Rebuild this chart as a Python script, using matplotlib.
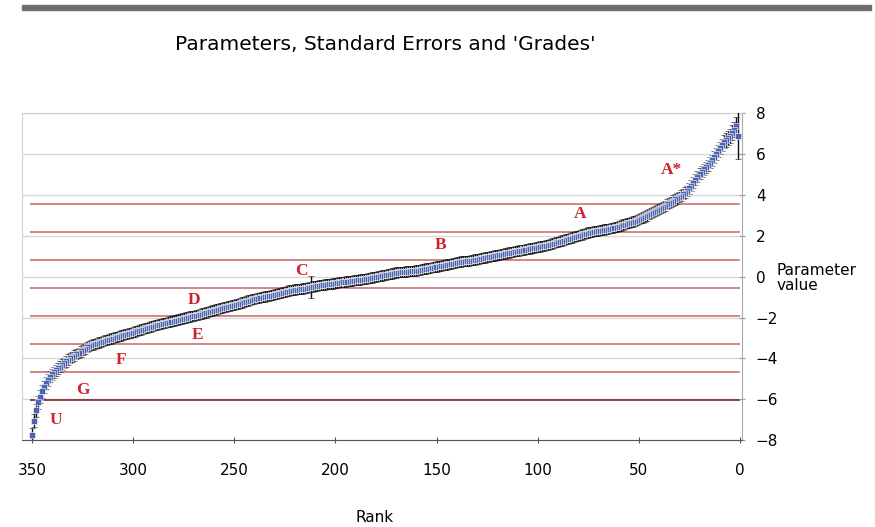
import matplotlib.pyplot as plt
from matplotlib.patches import Rectangle

# ------------------------ Дані ------------------------

# parameter value for rank 1 .. 350
values = [
    6.90, 7.40, 7.20, 7.05, 6.90, 6.80, 6.70, 6.60, 6.45, 6.30,
    6.15, 6.00, 5.85, 5.70, 5.58, 5.45, 5.35, 5.25, 5.15, 5.05,
    4.90, 4.75, 4.60, 4.45, 4.32, 4.20, 4.12, 4.05, 3.97, 3.90,
    3.84, 3.78, 3.72, 3.66, 3.60, 3.54, 3.48, 3.42, 3.36, 3.30,
    3.25, 3.20, 3.15, 3.10, 3.05, 3.00, 2.95, 2.90, 2.86, 2.82,
    2.78, 2.74, 2.70, 2.67, 2.64, 2.61, 2.58, 2.55, 2.51, 2.48,
    2.45, 2.42, 2.40, 2.38, 2.35, 2.33, 2.31, 2.29, 2.27, 2.25,
    2.24, 2.22, 2.20, 2.18, 2.16, 2.13, 2.10, 2.07, 2.04, 2.01,
    1.98, 1.95, 1.92, 1.89, 1.86, 1.83, 1.80, 1.77, 1.74, 1.71,
    1.68, 1.65, 1.62, 1.59, 1.56, 1.54, 1.52, 1.50, 1.48, 1.46,
    1.44, 1.42, 1.40, 1.38, 1.36, 1.34, 1.32, 1.30, 1.28, 1.26,
    1.24, 1.22, 1.20, 1.18, 1.16, 1.14, 1.12, 1.10, 1.08, 1.06,
    1.04, 1.02, 1.00, 0.98, 0.96, 0.94, 0.92, 0.90, 0.88, 0.86,
    0.84, 0.82, 0.80, 0.78, 0.77, 0.76, 0.75, 0.74, 0.72, 0.70,
    0.68, 0.66, 0.64, 0.62, 0.60, 0.58, 0.56, 0.54, 0.52, 0.50,
    0.48, 0.46, 0.44, 0.42, 0.40, 0.38, 0.36, 0.34, 0.32, 0.30,
    0.29, 0.28, 0.27, 0.26, 0.25, 0.24, 0.23, 0.22, 0.21, 0.20,
    0.18, 0.16, 0.14, 0.12, 0.10, 0.08, 0.06, 0.04, 0.02, 0.00,
    -0.02, -0.04, -0.06, -0.08, -0.10, -0.12, -0.13, -0.14, -0.15, -0.16,
    -0.18, -0.20, -0.21, -0.22, -0.24, -0.25, -0.27, -0.28, -0.30, -0.31,
    -0.33, -0.35, -0.36, -0.37, -0.38, -0.40, -0.41, -0.42, -0.44, -0.46,
    -0.48, -0.50, -0.52, -0.54, -0.56, -0.58, -0.60, -0.61, -0.62, -0.63,
    -0.64, -0.66, -0.68, -0.71, -0.74, -0.76, -0.79, -0.81, -0.84, -0.86,
    -0.88, -0.90, -0.93, -0.95, -0.97, -0.99, -1.01, -1.03, -1.05, -1.08,
    -1.11, -1.14, -1.17, -1.20, -1.23, -1.26, -1.29, -1.32, -1.35, -1.38,
    -1.40, -1.42, -1.44, -1.47, -1.50, -1.53, -1.55, -1.58, -1.61, -1.63,
    -1.66, -1.69, -1.72, -1.75, -1.78, -1.80, -1.83, -1.86, -1.88, -1.91,
    -1.93, -1.95, -1.97, -2.00, -2.02, -2.05, -2.07, -2.10, -2.12, -2.15,
    -2.17, -2.20, -2.22, -2.25, -2.27, -2.30, -2.32, -2.35, -2.38, -2.41,
    -2.44, -2.47, -2.50, -2.53, -2.56, -2.59, -2.62, -2.65, -2.68, -2.71,
    -2.74, -2.77, -2.79, -2.82, -2.85, -2.88, -2.91, -2.94, -2.97, -3.00,
    -3.03, -3.06, -3.09, -3.12, -3.15, -3.18, -3.22, -3.26, -3.29, -3.32,
    -3.35, -3.40, -3.46, -3.53, -3.60, -3.66, -3.72, -3.79, -3.86, -3.93,
    -3.99, -4.07, -4.15, -4.23, -4.31, -4.40, -4.49, -4.59, -4.69, -4.79,
    -4.90, -5.05, -5.22, -5.40, -5.62, -5.88, -6.15, -6.55, -7.05, -7.75,
]

# standard errors for rank 1 .. 350
std_errors = [
    1.15, 0.42, 0.38, 0.36, 0.35, 0.34, 0.33, 0.32, 0.31, 0.30,
    0.30, 0.29, 0.29, 0.28, 0.28, 0.28, 0.27, 0.27, 0.27, 0.27,
    0.27, 0.27, 0.26, 0.26, 0.26, 0.26, 0.26, 0.26, 0.26, 0.26,
    0.26, 0.26, 0.26, 0.25, 0.25, 0.25, 0.25, 0.25, 0.25, 0.25,
    0.25, 0.25, 0.25, 0.25, 0.25, 0.25, 0.25, 0.25, 0.25, 0.25,
    0.25, 0.25, 0.25, 0.25, 0.25, 0.25, 0.25, 0.25, 0.25, 0.25,
    0.25, 0.25, 0.25, 0.25, 0.25, 0.25, 0.25, 0.25, 0.25, 0.25,
    0.25, 0.25, 0.25, 0.25, 0.25, 0.25, 0.25, 0.25, 0.25, 0.25,
    0.25, 0.25, 0.25, 0.25, 0.25, 0.25, 0.25, 0.25, 0.25, 0.25,
    0.25, 0.25, 0.25, 0.25, 0.25, 0.25, 0.25, 0.25, 0.25, 0.25,
    0.25, 0.25, 0.25, 0.25, 0.25, 0.25, 0.25, 0.25, 0.25, 0.25,
    0.25, 0.25, 0.25, 0.25, 0.25, 0.25, 0.25, 0.25, 0.25, 0.25,
    0.25, 0.25, 0.25, 0.25, 0.25, 0.25, 0.25, 0.25, 0.25, 0.25,
    0.25, 0.25, 0.25, 0.25, 0.25, 0.25, 0.25, 0.25, 0.25, 0.25,
    0.25, 0.25, 0.25, 0.25, 0.25, 0.25, 0.25, 0.25, 0.25, 0.25,
    0.25, 0.25, 0.25, 0.25, 0.25, 0.25, 0.25, 0.25, 0.25, 0.25,
    0.25, 0.25, 0.25, 0.25, 0.25, 0.25, 0.25, 0.25, 0.25, 0.25,
    0.25, 0.25, 0.25, 0.25, 0.25, 0.25, 0.25, 0.25, 0.25, 0.25,
    0.25, 0.25, 0.25, 0.25, 0.25, 0.25, 0.25, 0.25, 0.25, 0.25,
    0.25, 0.25, 0.25, 0.25, 0.25, 0.25, 0.25, 0.25, 0.25, 0.25,
    0.25, 0.25, 0.25, 0.25, 0.25, 0.25, 0.25, 0.25, 0.25, 0.25,
    0.25, 0.55, 0.25, 0.25, 0.25, 0.25, 0.25, 0.25, 0.25, 0.25,
    0.25, 0.25, 0.25, 0.25, 0.25, 0.25, 0.25, 0.25, 0.25, 0.25,
    0.25, 0.25, 0.25, 0.25, 0.25, 0.25, 0.25, 0.25, 0.25, 0.25,
    0.25, 0.25, 0.25, 0.25, 0.25, 0.25, 0.25, 0.25, 0.25, 0.25,
    0.25, 0.25, 0.25, 0.25, 0.25, 0.25, 0.25, 0.25, 0.25, 0.25,
    0.25, 0.25, 0.25, 0.25, 0.25, 0.25, 0.25, 0.25, 0.25, 0.25,
    0.25, 0.25, 0.25, 0.25, 0.25, 0.25, 0.25, 0.25, 0.25, 0.25,
    0.25, 0.25, 0.25, 0.25, 0.25, 0.25, 0.25, 0.25, 0.25, 0.25,
    0.25, 0.25, 0.25, 0.25, 0.25, 0.25, 0.25, 0.25, 0.25, 0.25,
    0.25, 0.25, 0.25, 0.25, 0.25, 0.25, 0.25, 0.25, 0.25, 0.25,
    0.25, 0.25, 0.25, 0.25, 0.25, 0.25, 0.25, 0.25, 0.25, 0.25,
    0.25, 0.25, 0.25, 0.25, 0.25, 0.25, 0.25, 0.25, 0.25, 0.25,
    0.26, 0.26, 0.26, 0.26, 0.27, 0.27, 0.27, 0.28, 0.28, 0.28,
    0.28, 0.29, 0.29, 0.30, 0.30, 0.31, 0.31, 0.32, 0.32, 0.32,
]

ranks = list(range(1, len(values) + 1))

# grade boundaries (red lines)
boundaries = [3.55, 2.18, 0.81, -0.56, -1.93, -3.30, -4.67, -6.04]

grades = ["A*", "A", "B", "C", "D", "E", "F", "G", "U"]
grade_rank = [34, 79, 148, 217, 270, 268, 306, 325, 338]
grade_value = [5.2, 3.05, 1.55, 0.3, -1.15, -2.85, -4.1, -5.55, -7.0]

# ------------------------ Графік ------------------------

plt.rcParams['font.family'] = ['DejaVu Sans']

fig = plt.figure(figsize=(8.75, 5.27), dpi=100)
ax = fig.add_axes([0.025, 0.165, 0.823, 0.62])

for y in range(-8, 9, 2):
    ax.axhline(y, color='#d9d9d9', lw=1, zorder=0)

for i, b in enumerate(boundaries):
    col = '#7a1010' if i == len(boundaries) - 1 else '#c86464'
    ax.hlines(b, 351, 0, color=col, lw=1.1, zorder=1)

ax.errorbar(ranks, values, yerr=std_errors, fmt='s', ms=4,
            mfc='#4f64b0', mec='white', mew=0.4, ecolor='#111111',
            elinewidth=1.0, capsize=2.5, capthick=1.0, zorder=3)

for g, r, v in zip(grades, grade_rank, grade_value):
    ax.text(r, v, g, color='#d0202c', fontsize=12.5, fontweight='bold',
            family='Liberation Serif', ha='center', va='center', zorder=4)

ax.set_xlim(355, -1)
ax.set_ylim(-8, 8)
ax.set_xticks([350, 300, 250, 200, 150, 100, 50, 0])
ax.set_yticks(range(-8, 9, 2))
ax.yaxis.tick_right()
ax.tick_params(axis='y', direction='inout', length=4, color='#999999',
               labelsize=11, pad=8)
ax.tick_params(axis='x', direction='inout', length=5, color='#555555',
               labelsize=11, pad=14)

for side in ['left', 'top']:
    ax.spines[side].set_color('#d0d0d0')
ax.spines['right'].set_color('#aaaaaa')
ax.spines['bottom'].set_color('#555555')

fig.text(0.44, 0.915, "Parameters, Standard Errors and 'Grades'",
         ha='center', va='center', fontsize=14.5)
fig.text(0.428, 0.004, "Rank", ha='center', va='bottom', fontsize=11)
fig.text(0.888, 0.472, "Parameter\nvalue", ha='left', va='center',
         fontsize=11, linespacing=1.0)

# dark strip at the top of the screenshot
fig.patches.append(Rectangle((0.025, 1 - 10 / 527), 0.97, 5 / 527,
                             transform=fig.transFigure, color='#6e6e6e'))

fig.savefig('out.png', dpi=100)
